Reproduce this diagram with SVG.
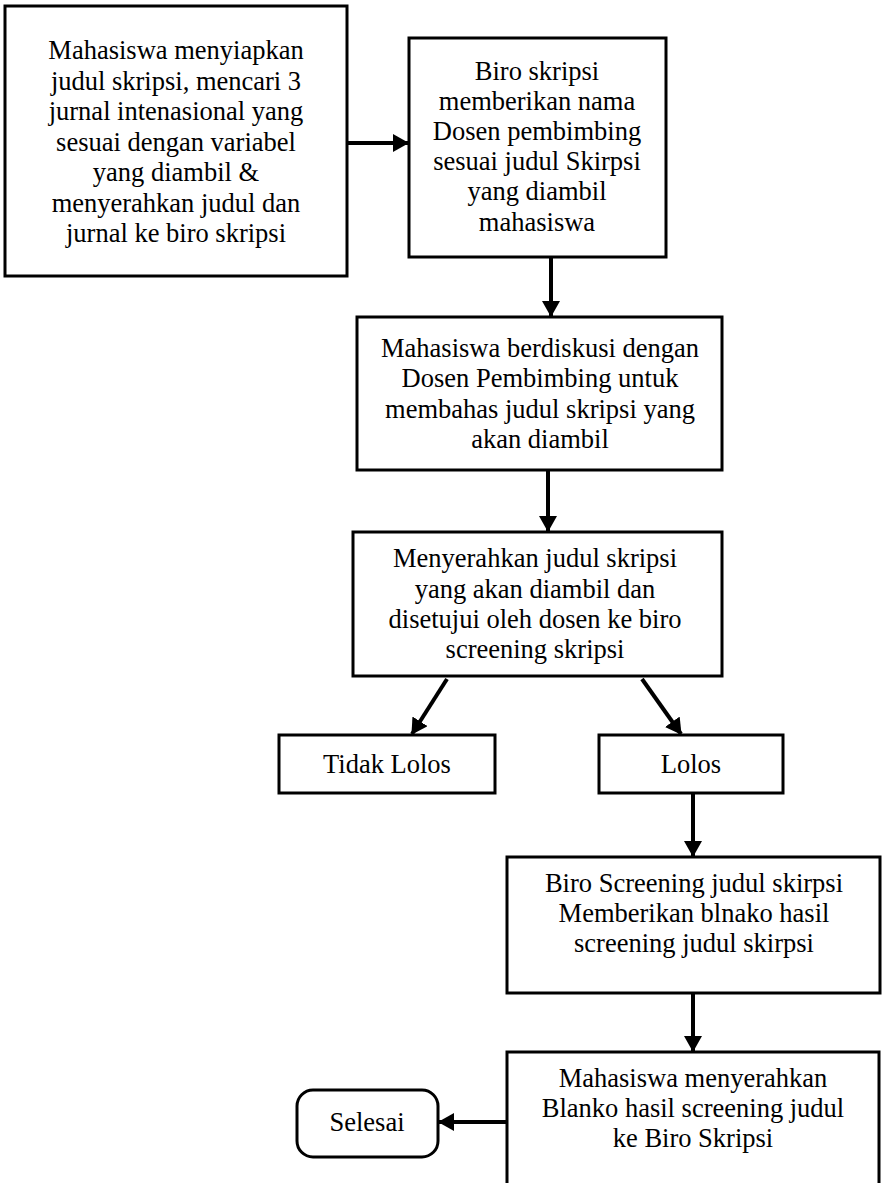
<svg xmlns="http://www.w3.org/2000/svg" width="883" height="1183" viewBox="0 0 883 1183">
<style>
.box{fill:#fff;stroke:#000;stroke-width:3}
.t{font-family:"Liberation Serif","Times New Roman",serif;font-size:26.5px;fill:#000;text-anchor:middle}
.c{stroke:#000;stroke-width:4;fill:none;marker-end:url(#ah)}
</style>
<defs>
<marker id="ah" markerUnits="userSpaceOnUse" markerWidth="16" markerHeight="18" refX="15" refY="9" orient="auto">
<path d="M0,0 L16,9 L0,18 z" fill="#000"/>
</marker>
</defs>
<rect width="883" height="1183" fill="#fff"/>
<g id="n1">
<rect class="box" x="5" y="6" width="342" height="270"/>
<text class="t" x="176" y="59">Mahasiswa menyiapkan</text>
<text class="t" x="176" y="90">judul skripsi, mencari 3</text>
<text class="t" x="176" y="120">jurnal intenasional yang</text>
<text class="t" x="176" y="151">sesuai dengan variabel</text>
<text class="t" x="176" y="181">yang diambil &amp;</text>
<text class="t" x="176" y="212">menyerahkan judul dan</text>
<text class="t" x="176" y="242">jurnal ke biro skripsi</text>
</g>
<g id="n2">
<rect class="box" x="409" y="38" width="257" height="219"/>
<text class="t" x="537" y="80">Biro skripsi</text>
<text class="t" x="537" y="110">memberikan nama</text>
<text class="t" x="537" y="140">Dosen pembimbing</text>
<text class="t" x="537" y="170">sesuai judul Skirpsi</text>
<text class="t" x="537" y="200">yang diambil</text>
<text class="t" x="537" y="231">mahasiswa</text>
</g>
<g id="n3">
<rect class="box" x="357" y="317" width="365" height="153"/>
<text class="t" x="540" y="357">Mahasiswa berdiskusi dengan</text>
<text class="t" x="540" y="387">Dosen Pembimbing untuk</text>
<text class="t" x="540" y="418">membahas judul skripsi yang</text>
<text class="t" x="540" y="448">akan diambil</text>
</g>
<g id="n4">
<rect class="box" x="353" y="532" width="369" height="144"/>
<text class="t" x="535" y="567">Menyerahkan judul skripsi</text>
<text class="t" x="535" y="598">yang akan diambil dan</text>
<text class="t" x="535" y="628">disetujui oleh dosen ke biro</text>
<text class="t" x="535" y="658">screening skripsi</text>
</g>
<g id="n5">
<rect class="box" x="279" y="735" width="216" height="58"/>
<text class="t" x="387" y="773">Tidak Lolos</text>
</g>
<g id="n6">
<rect class="box" x="599" y="735" width="184" height="58"/>
<text class="t" x="691" y="773">Lolos</text>
</g>
<g id="n7">
<rect class="box" x="507" y="857" width="373" height="136"/>
<text class="t" x="694" y="892">Biro Screening judul skirpsi</text>
<text class="t" x="694" y="922">Memberikan blnako hasil</text>
<text class="t" x="694" y="952">screening judul skirpsi</text>
</g>
<g id="n8">
<rect class="box" x="507" y="1052" width="372" height="140"/>
<text class="t" x="693" y="1087">Mahasiswa menyerahkan</text>
<text class="t" x="693" y="1117">Blanko hasil screening judul</text>
<text class="t" x="693" y="1147">ke Biro Skripsi</text>
</g>
<g id="n9">
<rect class="box" x="297" y="1090" width="141" height="67" rx="16" ry="16"/>
<text class="t" x="367" y="1131">Selesai</text>
</g>
<g id="connectors">
<line class="c" x1="347" y1="143" x2="408" y2="143"/>
<line class="c" x1="551" y1="257" x2="551" y2="316"/>
<line class="c" x1="548" y1="470" x2="548" y2="531"/>
<line class="c" x1="447" y1="679" x2="412" y2="734"/>
<line class="c" x1="642" y1="679" x2="681" y2="734"/>
<line class="c" x1="693" y1="793" x2="693" y2="856"/>
<line class="c" x1="693" y1="993" x2="693" y2="1051"/>
<line class="c" x1="506" y1="1122" x2="439" y2="1122"/>
</g>
</svg>
